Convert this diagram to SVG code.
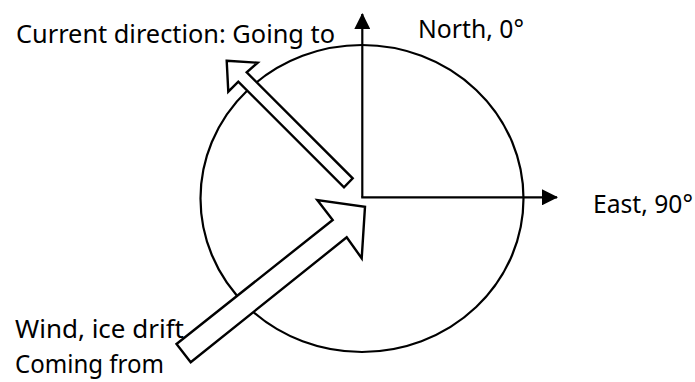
<svg xmlns="http://www.w3.org/2000/svg" width="695" height="382" viewBox="0 0 695 382">
  <style>
    .ln { stroke: #000; stroke-width: 2.2; fill: none; }
    .blk { stroke: #000; stroke-width: 2.4; fill: #fff; stroke-linejoin: miter; }
    .lbl { font-family: "Noto Sans", "Open Sans", sans-serif; font-size: 25px; fill: #000; }
  </style>
  <defs>
    <marker id="ah" viewBox="0 0 16 16" refX="15" refY="8" markerWidth="16" markerHeight="16" markerUnits="userSpaceOnUse" orient="auto">
      <path d="M0,0 L16,8 L0,16 Z" fill="#000"/>
    </marker>
  </defs>
  <rect width="695" height="382" fill="#fff"/>
  <g id="circle">
    <ellipse class="ln" cx="362" cy="198.5" rx="161.5" ry="153.5"/>
  </g>
  <g id="connectors">
    <line class="ln" x1="362.3" y1="197.3" x2="362.3" y2="14" marker-end="url(#ah)"/>
    <line class="ln" x1="361.2" y1="197.3" x2="557" y2="197.3" marker-end="url(#ah)"/>
  </g>
  <g id="current-arrow">
    <polygon class="blk" points="226.7,60.7 257.7,62.7 246.7,72.3 352.7,178.3 344,187.3 238.3,81.7 228.3,91.7"/>
  </g>
  <g id="wind-arrow">
    <polygon class="blk" points="176.5,344 332.7,220 317.3,200 365,206.7 361.7,258.3 346.7,237.3 190.7,362.3"/>
  </g>
  <g id="labels">
    <text class="lbl" x="16" y="43" textLength="319" lengthAdjust="spacingAndGlyphs">Current direction: Going to</text>
    <text class="lbl" x="418" y="38" textLength="106" lengthAdjust="spacingAndGlyphs">North, 0°</text>
    <text class="lbl" x="593" y="213" textLength="100" lengthAdjust="spacingAndGlyphs">East, 90°</text>
    <text class="lbl" x="15" y="338" textLength="169" lengthAdjust="spacingAndGlyphs">Wind, ice drift</text>
    <text class="lbl" x="15" y="373" textLength="149" lengthAdjust="spacingAndGlyphs">Coming from</text>
  </g>
</svg>
